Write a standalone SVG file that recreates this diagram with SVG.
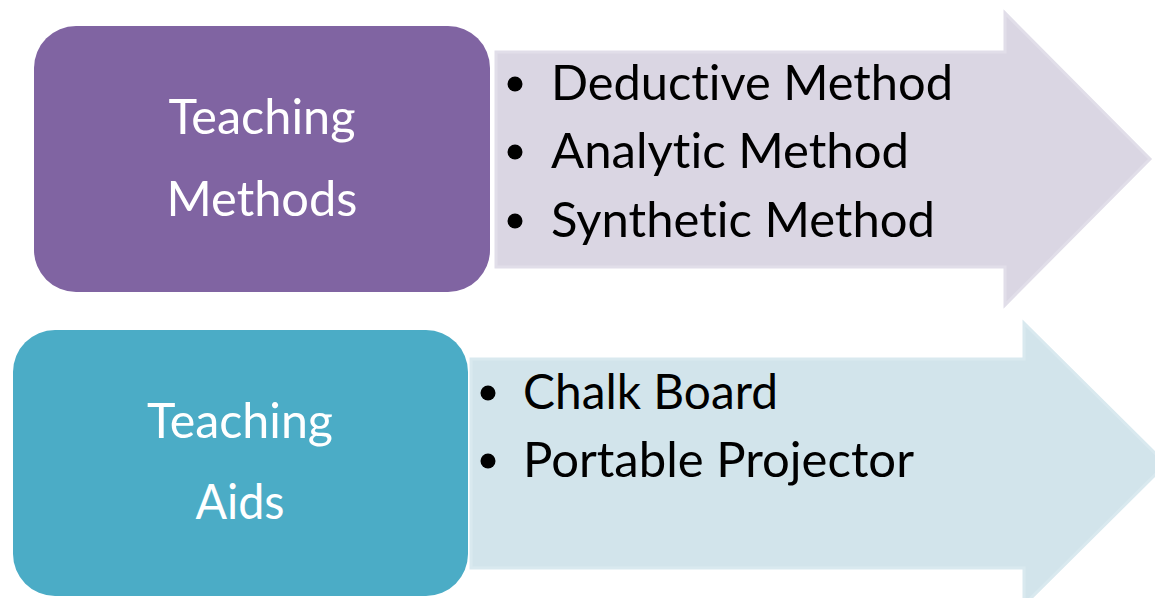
<svg xmlns="http://www.w3.org/2000/svg" width="1155" height="598" viewBox="0 0 1155 598">
<style>
.lbl{font-family:Lato,"Open Sans","Liberation Sans",sans-serif;font-size:48px;fill:#ffffff;text-anchor:middle;font-variant-ligatures:none}
.item{font-family:Lato,"Open Sans","Liberation Sans",sans-serif;font-size:48px;fill:#000000;font-variant-ligatures:none}
.arrowA{fill:#DAD6E3;stroke:#E1DEE9;stroke-width:3}
.arrowB{fill:#D2E4EB;stroke:#D9E9EF;stroke-width:3}
</style>
<rect width="1155" height="598" fill="#ffffff"/>
<g id="connectors">
<polygon class="arrowA" points="496,52 1005,52 1005,13 1150,159 1005,305 1005,267 496,267"/>
<polygon class="arrowB" points="471,359 1024,359 1024,323 1166,464 1024,605 1024,568 471,568"/>
</g>
<g id="node-methods">
<rect x="34" y="26" width="456" height="266" rx="42" ry="42" fill="#8064A2"/>
<text class="lbl" x="262" y="134" textLength="187" lengthAdjust="spacingAndGlyphs">Teaching</text>
<text class="lbl" x="262" y="216" textLength="191" lengthAdjust="spacingAndGlyphs">Methods</text>
</g>
<g id="node-aids">
<rect x="13" y="330" width="455" height="266" rx="42" ry="42" fill="#4BACC6"/>
<text class="lbl" x="240" y="438" textLength="186" lengthAdjust="spacingAndGlyphs">Teaching</text>
<text class="lbl" x="240" y="519" textLength="89" lengthAdjust="spacingAndGlyphs">Aids</text>
</g>
<g id="list-methods">
<circle cx="515" cy="84" r="7.5"/>
<circle cx="515" cy="152" r="7.5"/>
<circle cx="515" cy="221" r="7.5"/>
<text class="item" x="551" y="100" textLength="402" lengthAdjust="spacingAndGlyphs">Deductive Method</text>
<text class="item" x="551" y="168" textLength="358" lengthAdjust="spacingAndGlyphs">Analytic Method</text>
<text class="item" x="551" y="237" textLength="384" lengthAdjust="spacingAndGlyphs">Synthetic Method</text>
</g>
<g id="list-aids">
<circle cx="488" cy="393" r="7.5"/>
<circle cx="488" cy="461" r="7.5"/>
<text class="item" x="523" y="409" textLength="255" lengthAdjust="spacingAndGlyphs">Chalk Board</text>
<text class="item" x="523" y="477" textLength="391" lengthAdjust="spacingAndGlyphs">Portable Projector</text>
</g>
</svg>
